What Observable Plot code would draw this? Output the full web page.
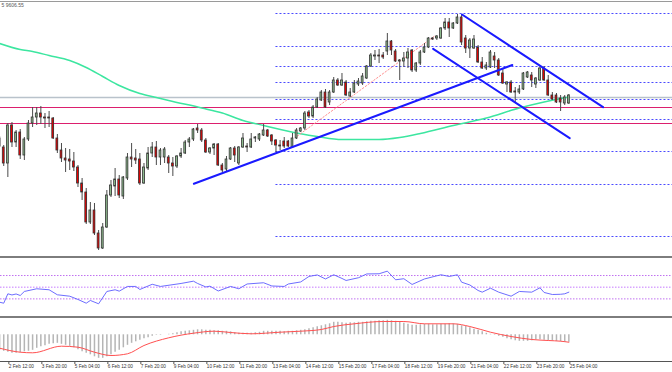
<!DOCTYPE html>
<html><head><meta charset="utf-8">
<script src="https://cdn.jsdelivr.net/npm/d3@7"></script>
<script src="https://cdn.jsdelivr.net/npm/@observablehq/plot@0.6"></script>
<style>
html,body{margin:0;padding:0;background:#fff;}
#chart{width:672px;height:372px;position:relative;overflow:hidden;font-family:"Liberation Sans",sans-serif;}
.sep{height:2px;background:#7d7d7d;}
.topline{position:absolute;left:0;top:1px;width:672px;height:1px;background:#9a9a9a;}
svg{display:block;}
</style></head><body>
<div id="chart"><div id="pa"></div><div class="sep"></div><div id="pb"></div><div class="sep"></div><div id="pc"></div><div class="topline"></div></div>
<script>
// ---------- data ----------
const header = "5 9606.55";
const firstBarTime = "2020-02-02T04:00Z"; // 4-hour bars
const open = [9562,9553,9537,9575,9558,9568,9545,9561,9577,9583,9587,9583,9583,9582,9562,9550,9542,9541,9539,9533,9517,9508,9478,9490,9467,9452,9473,9505,9514,9521,9504,9522,9543,9542,9541,9517,9532,9547,9553,9543,9543,9543,9537,9534,9544,9547,9558,9561,9572,9570,9560,9548,9552,9556,9535,9531,9541,9552,9537,9553,9554,9553,9562,9561,9565,9570,9565,9560,9555,9559,9559,9553,9562,9569,9572,9588,9584,9593,9600,9608,9598,9608,9620,9615,9618,9604,9608,9616,9617,9622,9634,9644,9645,9645,9649,9659,9649,9639,9639,9642,9650,9630,9637,9648,9653,9662,9662,9662,9672,9678,9672,9677,9683,9662,9652,9652,9653,9638,9632,9633,9644,9640,9627,9616,9618,9609,9608,9611,9623,9625,9616,9620,9632,9620,9605,9605,9602,9597,9597];
const high = [9564,9555,9577,9578,9570,9571,9563,9580,9593,9593,9594,9587,9589,9583,9566,9557,9552,9551,9548,9535,9522,9512,9498,9497,9470,9477,9510,9520,9532,9525,9524,9547,9557,9551,9547,9537,9553,9558,9559,9552,9553,9545,9543,9545,9552,9560,9563,9572,9576,9572,9562,9553,9557,9557,9537,9544,9553,9554,9554,9567,9557,9567,9564,9567,9576,9571,9566,9561,9560,9563,9560,9567,9572,9573,9589,9590,9595,9603,9610,9611,9610,9623,9622,9627,9620,9612,9620,9622,9627,9635,9647,9650,9651,9648,9667,9660,9651,9641,9648,9652,9651,9638,9650,9657,9663,9663,9665,9673,9682,9682,9678,9686,9686,9665,9662,9665,9655,9643,9638,9650,9648,9642,9632,9619,9620,9613,9615,9628,9629,9628,9623,9633,9634,9625,9608,9607,9605,9605,9606];
const low = [9553,9534,9523,9553,9553,9541,9540,9559,9573,9575,9576,9572,9573,9561,9547,9538,9528,9530,9529,9513,9500,9476,9476,9465,9450,9451,9472,9503,9504,9502,9501,9520,9533,9536,9515,9516,9530,9543,9535,9535,9537,9527,9524,9532,9542,9546,9553,9559,9567,9558,9547,9546,9545,9534,9528,9529,9540,9538,9535,9552,9548,9552,9558,9559,9564,9563,9555,9548,9550,9552,9553,9552,9561,9568,9570,9582,9582,9592,9599,9592,9595,9607,9614,9614,9604,9603,9607,9614,9615,9621,9633,9640,9637,9641,9645,9645,9638,9620,9633,9632,9628,9628,9635,9647,9652,9660,9660,9661,9670,9663,9671,9676,9655,9647,9642,9651,9637,9631,9630,9632,9632,9624,9616,9608,9607,9598,9606,9610,9622,9613,9612,9619,9619,9604,9600,9597,9589,9595,9596];
const close = [9554,9537,9575,9558,9568,9545,9561,9577,9583,9587,9583,9582,9582,9562,9550,9542,9540,9539,9533,9517,9508,9478,9490,9467,9452,9473,9505,9515,9521,9505,9523,9543,9541,9540,9517,9533,9547,9553,9543,9550,9551,9537,9534,9544,9547,9558,9561,9571,9570,9560,9548,9552,9556,9535,9530,9541,9552,9545,9553,9562,9553,9561,9563,9566,9570,9564,9559,9555,9554,9554,9554,9562,9570,9572,9587,9584,9593,9601,9608,9593,9608,9620,9615,9620,9605,9608,9617,9619,9624,9634,9645,9645,9644,9643,9659,9650,9639,9640,9642,9648,9630,9637,9648,9653,9662,9661,9664,9672,9678,9672,9677,9683,9658,9652,9660,9661,9638,9632,9635,9648,9640,9625,9617,9618,9608,9608,9611,9627,9628,9620,9622,9632,9620,9605,9601,9598,9598,9603,9605];

// moving average, read at [bar, price]
const maPoints = [[0,9657],[5,9651],[8,9649],[12,9645],[17,9640],[21,9633],[25,9624],[29,9615],[34,9607],[38,9603],[41,9600],[49,9592.5],[54,9587.5],[59,9580],[64,9575],[73,9566.7],[77,9564],[83,9561],[92,9561],[97,9563],[102,9567],[110,9575],[118,9582.5],[126,9592.5],[132,9598.5],[138,9603.5]];

// horizontal levels (price)
const greyLevel = [9603];
const pinkLevels = [9593, 9577];
const fibLevels = [9687, 9654, 9634, 9618, 9601, 9581, 9549, 9516, 9464];
const fibStartBar = 67;
const fibDiagonal = [[72.2, 9564.5], [105.3, 9664]];

// trend lines [bar, price]
const supportLine = [[47.1, 9516.7], [124.3, 9635.5]];
const channelUpper = [[112.1, 9686], [146.3, 9593.3]];
const channelLower = [[105.1, 9651.7], [138.2, 9562.3]];

// RSI [bar, value]
const rsiPoints = [[0,24.3],[1,22.6],[2,38.7],[3,36.7],[4,38.4],[5,35.8],[6,42.7],[9,47.3],[12,45.6],[14,37.0],[17,34.6],[19,29.0],[21,22.6],[22,27.3],[24,21.6],[26,42.7],[28,45.6],[29,43.2],[31,51.3],[33,51.3],[34,46.1],[37,55.0],[39,51.3],[44,56.4],[47,60.3],[48,56.4],[50,50.4],[51,51.8],[53,43.5],[56,51.3],[58,47.3],[60,55.5],[64,57.6],[66,52.1],[69,51.3],[70,55.5],[73,59.0],[75,68.4],[77,71.0],[79,64.1],[81,71.3],[83,65.0],[84,61.5],[87,66.2],[89,72.7],[92,73.0],[94,77.5],[96,62.7],[98,64.5],[100,54.7],[103,64.1],[107,71.3],[109,68.4],[111,71.3],[112,58.6],[114,53.8],[116,44.4],[117,41.5],[119,48.3],[121,41.5],[124,34.6],[126,42.7],[129,41.5],[131,49.0],[132,41.0],[134,37.5],[136,37.9],[137,38.7],[138,41.5]];
const rsiLevels = [30, 70];
const rsiMid = [50];

// MACD histogram (one per bar) and signal [bar, value]
const macdHist = [-15.5,-16.5,-17.5,-18.5,-18.5,-18,-17,-16.5,-15.5,-13.5,-12,-11,-9.5,-9,-8.5,-9.5,-10.5,-11.5,-13,-15,-17,-18.5,-20,-22,-23.5,-23.5,-22,-20,-17.5,-15.5,-13,-10.5,-8.5,-7,-5.5,-4,-3,-1.5,-0.5,-0.5,0,0.5,1,2,3,3.5,4,4.5,5,5,4.5,4.5,4,4,3.5,3.5,3,2,1.5,1.5,1.5,1.5,2,2.5,3.5,3.5,3.5,3.5,3.5,3,3.5,3.5,4,4.5,5,6,7,8,9,10,11,12.5,12.5,12,11.5,12,12,12.5,12.5,13,13.5,13.5,14,14,14.5,14,13.5,12.5,11.5,10.5,9.5,9.5,10,10.5,10.5,10,10,10.5,10.5,11,11,10.5,9,8.5,7,5.5,4.5,3,1.5,0.5,-0.5,-1.5,-2.5,-4,-5,-6,-6.5,-6.5,-6.5,-6,-5,-5,-5.5,-6,-6,-6.5,-7,-7.5,-7.5];
const macdSignal = [[0,-13.4],[5,-17.4],[8,-18],[15,-11.4],[19,-12.4],[23,-17.4],[27,-20.7],[31,-19],[35,-10.7],[41,-3],[47,1.6],[52,3.6],[56,2.3],[61,1],[68,2.6],[73,3.6],[78,5.3],[81,8.3],[86,11],[93,13.3],[98,13.3],[103,11],[110,11],[114,8.3],[119,2.6],[124,-1.7],[129,-4.7],[133,-5.7],[136,-6.4],[138,-7.4]];

const tickLabels = ["2 Feb 12:00","3 Feb 20:00","5 Feb 04:00","6 Feb 12:00","7 Feb 20:00","9 Feb 04:00","10 Feb 12:00","11 Feb 20:00","13 Feb 04:00","14 Feb 12:00","15 Feb 20:00","17 Feb 04:00","18 Feb 12:00","19 Feb 20:00","21 Feb 04:00","22 Feb 12:00","23 Feb 20:00","25 Feb 04:00"];

// ---------- layout ----------
const W = 672;
const pxPerBar = 4.125, firstBarX = -0.9;
const xDomain = [(0 - firstBarX) / pxPerBar, (W - firstBarX) / pxPerBar];
const priceDomain = [9444, 9700];
const macdDomain = [-26.7, 16.3];

const t0 = new Date(firstBarTime);
const parse = d3.utcParse("%Y %d %b %H:%M");
const tickBars = tickLabels.map(s => Math.round((parse("2020 " + s) - t0) / 144e5));
const labelByBar = new Map(tickBars.map((b, k) => [b, tickLabels[k]]));

const candles = open.map((o, i) => ({i, o, h: high[i], l: low[i], c: close[i]}));
const ups = candles.filter(d => d.c >= d.o);
const downs = candles.filter(d => d.c < d.o);
const hw = 0.22;

const common = {
  width: W, marginLeft: 0, marginRight: 0, marginTop: 0, marginBottom: 0,
  style: {background: "#fff", fontFamily: "Liberation Sans", fontSize: "4.7px", overflow: "visible"}
};
const xs = {type: "linear", domain: xDomain, range: [0, W], axis: null, label: null};

const pa = Plot.plot({
  ...common, height: 256,
  x: xs,
  y: {domain: priceDomain, range: [256, 0], axis: null},
  marks: [
    Plot.ruleY(fibLevels, {x1: fibStartBar, x2: xDomain[1], stroke: "#4a4aff", strokeWidth: 1, strokeDasharray: "2,2"}),
    Plot.ruleY(greyLevel, {stroke: "#b9c2cb", strokeWidth: 1.5}),
    Plot.ruleY(pinkLevels, {stroke: "#dc1f6e", strokeWidth: 1}),
    Plot.line(maPoints, {x: d => d[0], y: d => d[1], stroke: "#3ce6a0", strokeWidth: 1.5, curve: "monotone-x"}),
    Plot.line(fibDiagonal, {x: d => d[0], y: d => d[1], stroke: "#ff8f8f", strokeWidth: 1, strokeDasharray: "1.5,2"}),
    Plot.ruleX(candles, {x: "i", y1: "l", y2: "h", stroke: "#4a4a4a", strokeWidth: 1}),
    Plot.rect(ups, {x1: d => d.i - hw, x2: d => d.i + hw, y1: "o", y2: "c", fill: "#8fbd8f", stroke: "#333", strokeWidth: 0.8}),
    Plot.rect(downs, {x1: d => d.i - hw, x2: d => d.i + hw, y1: "o", y2: "c", fill: "#ee0000", stroke: "#333", strokeWidth: 0.8}),
    Plot.line(supportLine, {x: d => d[0], y: d => d[1], stroke: "#1a1aff", strokeWidth: 2}),
    Plot.line(channelUpper, {x: d => d[0], y: d => d[1], stroke: "#1a1aff", strokeWidth: 2}),
    Plot.line(channelLower, {x: d => d[0], y: d => d[1], stroke: "#1a1aff", strokeWidth: 2}),
    Plot.text([header], {frameAnchor: "top-left", dx: 1, dy: 3, fontSize: 5, fill: "#555"})
  ]
});

const pb = Plot.plot({
  ...common, height: 58,
  x: xs,
  y: {domain: [0, 100], range: [57.9, -0.5], axis: null},
  marks: [
    Plot.ruleY(rsiLevels, {stroke: "#c070f0", strokeWidth: 1, strokeDasharray: "1.5,1.5"}),
    Plot.ruleY(rsiMid, {stroke: "#d9a6ff", strokeWidth: 1.6, strokeDasharray: "1.5,1.5"}),
    Plot.line(rsiPoints, {x: d => d[0], y: d => d[1], stroke: "#5c5cff", strokeWidth: 0.9})
  ]
});

const pc = Plot.plot({
  ...common, height: 54, marginBottom: 11,
  x: xs,
  y: {domain: macdDomain, range: [43, 0], axis: null},
  marks: [
    Plot.ruleX(macdHist.map((v, i) => ({i, v})), {x: "i", y1: 0, y2: "v", stroke: "#b5b5b5", strokeWidth: 1.5}),
    Plot.line(macdSignal, {x: d => d[0], y: d => d[1], stroke: "#ff5050", strokeWidth: 1, curve: "monotone-x"}),
    Plot.ruleY([macdDomain[0]], {stroke: "#555", strokeWidth: 1}),
    Plot.axisX({ticks: tickBars, tickFormat: d => labelByBar.get(d), label: null, tickSize: 3, tickPadding: 0, textAnchor: "start", dx: 1, fontSize: 4.7, fontFamily: "Liberation Sans", stroke: "#555", fill: "#333"})
  ]
});

document.getElementById("pa").appendChild(pa);
document.getElementById("pb").appendChild(pb);
document.getElementById("pc").appendChild(pc);
</script>
</body></html>
